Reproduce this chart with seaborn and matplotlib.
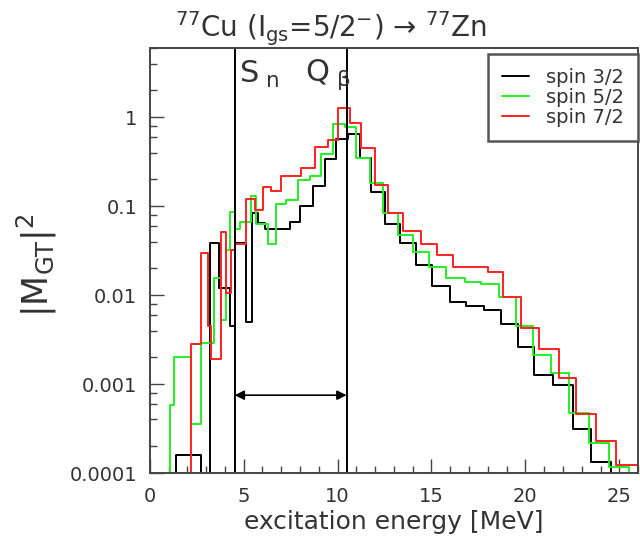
#!/usr/bin/env python
# -*- coding: utf-8 -*-

import numpy as np
import pandas as pd

import matplotlib
matplotlib.use('Agg')
import matplotlib.pyplot as plt
import matplotlib.ticker as mticker
from matplotlib.lines import Line2D
import seaborn as sns

## ============================================================= ##
## Gamow-Teller strength per bin
## (bin edges in MeV, zero = below the plotted range)

edges_3_2 = [0.0, 1.42, 2.75, 3.19, 3.67, 4.26, 4.52, 5.14, 5.44, 5.76, 6.12,
             7.45, 7.98, 8.69, 9.31, 9.93, 10.55, 11.17, 11.79, 12.50, 13.30,
             14.15, 15.04, 15.96, 16.85, 17.82, 18.71, 19.59, 20.48, 21.45,
             22.52, 23.49, 24.56, 26.0]
mgt_3_2 = [0.0, 1.6e-4, 0.0, 0.039, 0.012, 0.0045, 0.039, 0.005, 0.084, 0.064,
           0.056, 0.066, 0.10, 0.168, 0.34, 0.57, 0.64, 0.35, 0.145, 0.063,
           0.039, 0.022, 0.0126, 0.0084, 0.0076, 0.0068, 0.0047, 0.0026,
           0.00126, 0.00098, 0.00031, 0.000134, 0.0]

edges_5_2 = [0.0, 1.10, 1.28, 2.22, 2.75, 3.40, 3.81, 4.04, 4.26, 4.52, 4.79,
             5.41, 5.68, 6.29, 6.70, 7.27, 7.89, 8.51, 9.13, 9.75, 10.37,
             10.99, 11.70, 12.41, 13.21, 14.01, 14.89, 15.78, 16.76, 17.64,
             18.62, 19.51, 20.39, 21.37, 22.34, 23.40, 24.47, 25.53, 26.0]
mgt_5_2 = [0.0, 0.00058, 0.002, 0.00036, 0.0029, 0.0154, 0.0052, 0.032, 0.086,
           0.056, 0.066, 0.13, 0.063, 0.0373, 0.107, 0.116, 0.195, 0.22, 0.39,
           0.84, 0.78, 0.35, 0.18, 0.083, 0.048, 0.0307, 0.0208, 0.0154,
           0.0141, 0.0135, 0.0096, 0.0045, 0.0021, 0.00134, 0.00047, 0.000216,
           0.000118, 0.0]

edges_7_2 = [0.0, 2.22, 2.71, 3.10, 3.28, 3.81, 4.08, 4.35, 4.52, 5.14, 5.59,
             6.03, 6.47, 7.01, 8.07, 8.78, 9.48, 10.02, 10.64, 11.26, 11.97,
             12.68, 13.47, 14.45, 15.28, 16.13, 18.00, 18.83, 19.77, 20.74,
             21.81, 22.70, 23.76, 24.82, 26.0]
mgt_7_2 = [0.0, 0.0028, 0.0294, 0.0045, 0.0019, 0.0515, 0.0105, 0.032, 0.038,
           0.119, 0.09, 0.165, 0.148, 0.22, 0.266, 0.46, 0.55, 1.28, 0.85, 0.45,
           0.174, 0.083, 0.053, 0.0378, 0.0281, 0.0208, 0.0182, 0.0096, 0.0043,
           0.00246, 0.00116, 0.00046, 0.000229, 0.000123]

spin_labels = ['spin 3/2', 'spin 5/2', 'spin 7/2']
spin_colors = ['black', '#22f022', '#ff2020']

S_n = 4.52        # neutron separation energy [MeV]
Q_beta = 10.48    # beta decay Q value [MeV]
arrow_level = 7.5e-4

## ============================================================= ##

sns.set_style('ticks')
plt.rcParams['font.family'] = ['DejaVu Sans']
plt.rcParams['mathtext.default'] = 'regular'
textcol = '#333333'

fig = plt.figure(figsize=(6.4, 5.39), dpi=100)
ax = fig.add_axes([0.234, 0.1224, 0.763, 0.7886])

series = [(edges_3_2, mgt_3_2), (edges_5_2, mgt_5_2), (edges_7_2, mgt_7_2)]
for (edges, vals), lab, col in zip(series, spin_labels, spin_colors):
    e = np.array(edges)
    dfs = pd.DataFrame({'E': 0.5 * (e[:-1] + e[1:]), 'w': vals})
    sns.histplot(data=dfs, x='E', weights='w', bins=list(edges), element='step',
                 fill=False, color=col, linewidth=1.4, ax=ax)

ax.set_yscale('log')
ax.set_xlim(0, 26)
ax.set_ylim(1e-4, 6)

ax.axvline(S_n, color='black', lw=1.4)
ax.axvline(Q_beta, color='black', lw=1.4)
ax.annotate('', xy=(Q_beta, arrow_level), xytext=(S_n, arrow_level),
            arrowprops=dict(arrowstyle='<|-|>', color='black', lw=1.2,
                            mutation_scale=14, shrinkA=0, shrinkB=0))
ax.text(S_n + 0.25, 3.0, 'S$_{\\ n}$', fontsize=22, color=textcol,
        family='Liberation Sans Narrow', va='center', ha='left')
ax.text(Q_beta - 2.2, 3.0, 'Q$_{\\ β}$', fontsize=22, color=textcol,
        family='Liberation Sans Narrow', va='center', ha='left')

ax.xaxis.set_major_locator(mticker.MultipleLocator(5))
ax.xaxis.set_minor_locator(mticker.MultipleLocator(1))
ax.yaxis.set_major_locator(mticker.LogLocator(base=10, numticks=10))
ax.yaxis.set_minor_locator(mticker.LogLocator(base=10, subs=(2, 4, 6, 8), numticks=10))
ax.yaxis.set_major_formatter(mticker.FuncFormatter(lambda v, p: f'{v:g}'))
ax.yaxis.set_minor_formatter(mticker.NullFormatter())
ax.tick_params(which='both', direction='in', colors='#444444',
               labelcolor=textcol, labelsize=14, top=False, right=False)
ax.tick_params(which='major', length=10, width=1)
ax.tick_params(which='minor', length=5, width=1)
ax.tick_params(axis='y', which='major', pad=9)
ax.tick_params(axis='x', which='major', pad=10)
for sp in ax.spines.values():
    sp.set_color('#444444')
    sp.set_linewidth(1.4)

ax.set_xlabel('excitation energy [MeV]', fontsize=18, color=textcol, labelpad=3)
ax.set_ylabel('|M$_{GT}$|$^{2}$', fontsize=25, color=textcol)
ax.yaxis.set_label_coords(-0.185, 0.49)
ax.set_title('$^{77}$Cu (I$_{gs}$=5/2$^{-}$) → $^{77}$Zn', fontsize=20,
             color=textcol, x=0.371, pad=6)

handles = [Line2D([], [], color=c, lw=1.4) for c in spin_colors]
leg = ax.legend(handles, spin_labels, loc='upper right',
                bbox_to_anchor=(1.0, 0.985), fontsize=14, frameon=True,
                fancybox=False, edgecolor='#555555', framealpha=1,
                handlelength=1.4, handletextpad=0.9, labelspacing=0.05,
                borderpad=0.7, borderaxespad=0)
leg.get_frame().set_linewidth(1.8)
for t in leg.get_texts():
    t.set_color(textcol)

fig.savefig('out.png', dpi=100)
